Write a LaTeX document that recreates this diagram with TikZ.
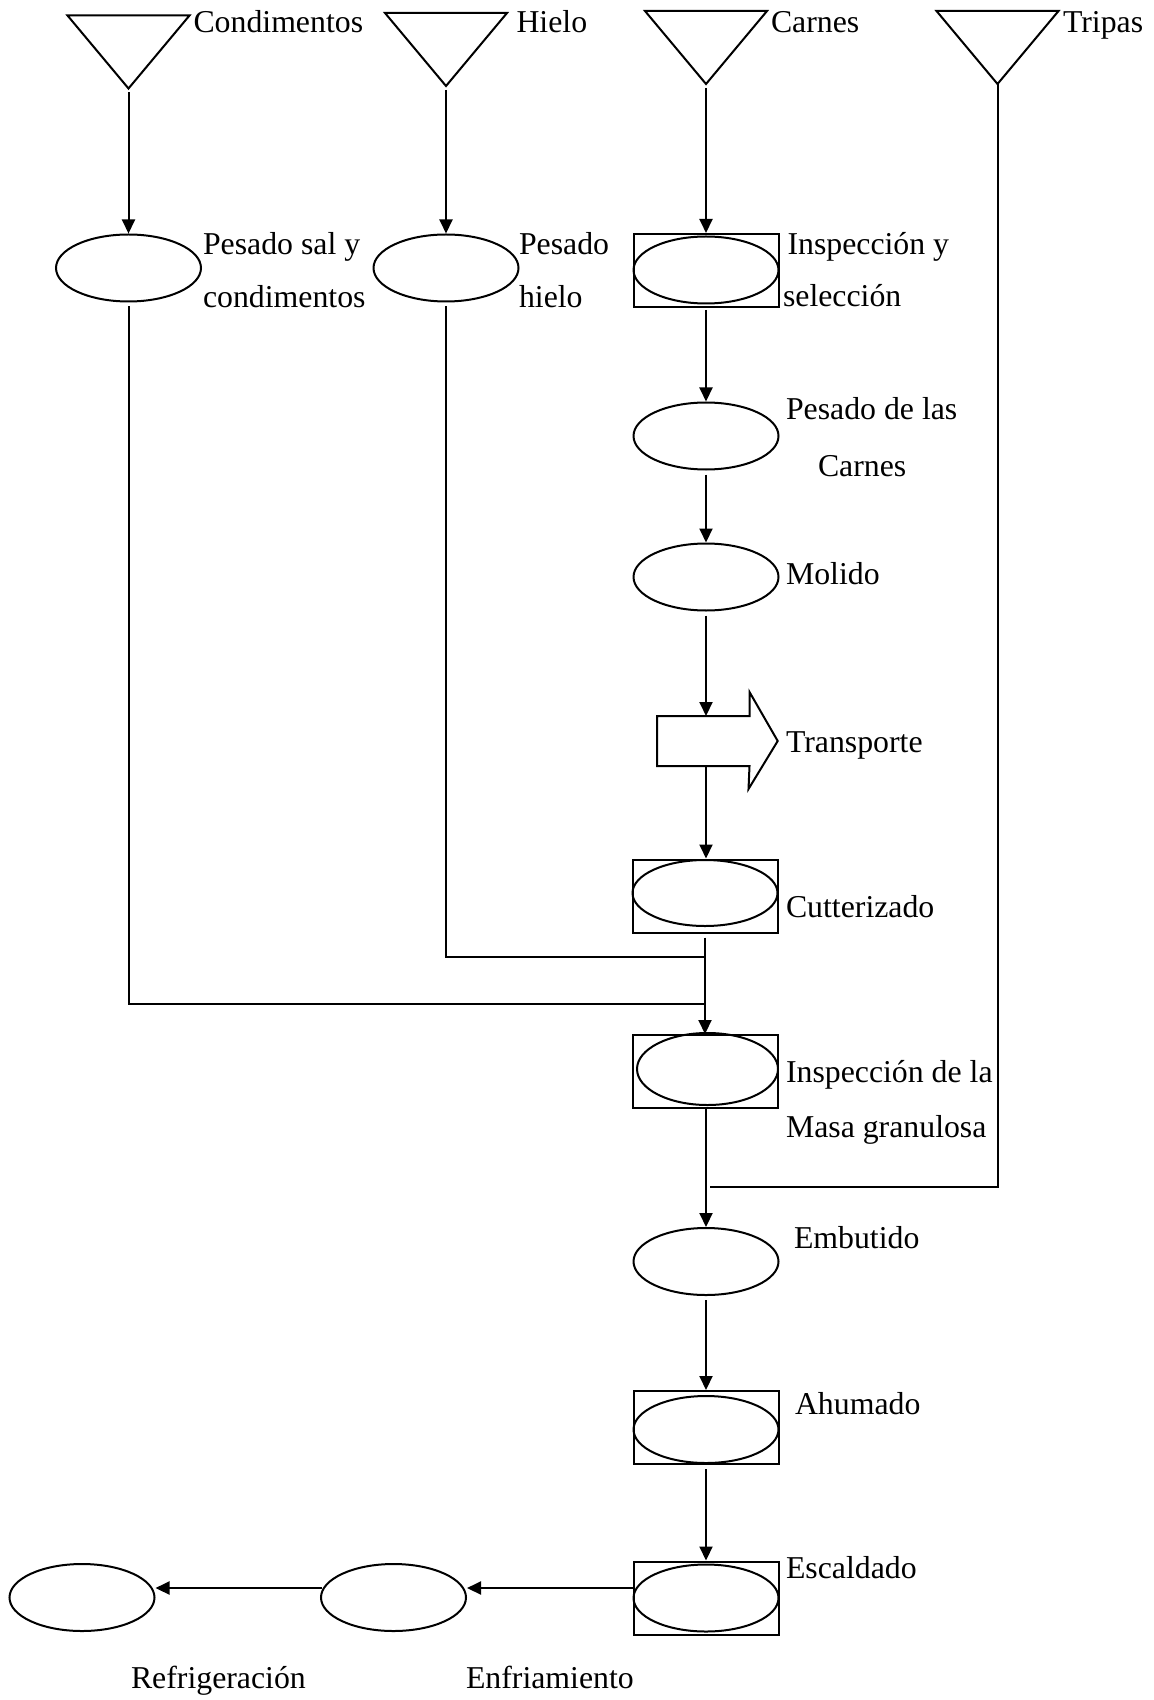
\documentclass[tikz,border=0pt]{standalone}
\usepackage{fontspec}
\setmainfont{Liberation Serif}
\usetikzlibrary{arrows.meta,shapes.geometric}
\begin{document}
\begin{tikzpicture}[x=0.5pt,y=-0.5pt,
  line width=1pt,
  proc/.style={draw, ellipse, inner sep=0pt, minimum width=72.5pt, minimum height=33.5pt},
  frame/.style={draw, rectangle, inner sep=0pt, minimum width=72.5pt, minimum height=36.5pt},
  tank/.style={inner sep=0pt, minimum width=60pt, minimum height=35.5pt},
  body/.style={inner sep=0pt, minimum width=45.25pt, minimum height=24pt},
  lbl/.style={anchor=base west, inner sep=0pt, font=\fontsize{15.9}{19}\selectfont},
  flow/.style={-{Triangle[length=7pt,width=6.5pt]}},
]
\useasboundingbox (0,0) rectangle (1153,1700);

% storage triangles (raw materials)
\node[tank] (t1) at (128.5,52)   {};
\node[tank] (t2) at (446,49.5) {};
\node[tank] (t3) at (706,47.5) {};
\node[tank] (t4) at (997.5,47.5) {};
\foreach \t in {t1,t2,t3,t4}
  \draw (\t.north west) -- (\t.north east) -- (\t.south) -- cycle;

\node[lbl] (lt1) at (192.5,33) {Condimentos};
\node[lbl] (lt2) at (515.5,33) {Hielo};
\node[lbl] (lt3) at (770,33)   {Carnes};
\node[lbl] (lt4) at (1062,33)  {Tripas};

% weighing of side materials
\node[proc] (ec) at (128.5,268) {};
\node[proc] (eh) at (446,268) {};
\node[lbl] (lec1) at (202,255) {Pesado sal y};
\node[lbl] (lec2) at (202,308) {condimentos};
\node[lbl] (leh1) at (518,255) {Pesado};
\node[lbl] (leh2) at (518,308) {hielo};

% main line
\node[frame] (f1) at (706,270.5) {};
\node[proc]  (e1) at (706,270) {};
\node[lbl] (le1a) at (786.5,255) {Inspección y};
\node[lbl] (le1b) at (782,307) {selección};

\node[proc] (e2) at (706,436) {};
\node[lbl] (le2a) at (785,420) {Pesado de las};
\node[lbl] (le2b) at (817,476) {Carnes};

\node[proc] (e3) at (706,577) {};
\node[lbl] (le3) at (785,584) {Molido};

% transport arrow
\node[body] (tr) at (703.25,741) {};
\draw (tr.north west) -- (tr.north east) -- ++(0,-24) -- (777.7,741)
      -- (748.5,789) -- (tr.south east) -- (tr.south west) -- cycle;
\node[lbl] (ltr) at (785,752) {Transporte};

\node[frame] (f4) at (705,896) {};
\node[proc, minimum height=33pt]  (e4) at (705,893) {};
\node[lbl] (le4) at (785,917) {Cutterizado};

\node[frame] (f5) at (705,1071.5) {};
\node[proc, minimum width=70.5pt, minimum height=36pt] (e5) at (707.5,1069) {};
\node[lbl] (le5a) at (785,1082) {Inspección de la};
\node[lbl] (le5b) at (785,1137) {Masa granulosa};

\node[proc] (e6) at (706,1261.5) {};
\node[lbl] (le6) at (793,1248) {Embutido};

\node[frame] (f7) at (706,1427.5) {};
\node[proc]  (e7) at (706,1429.5) {};
\node[lbl] (le7) at (794,1414) {Ahumado};

\node[frame] (f8) at (706,1598) {};
\node[proc]  (e8) at (706,1598) {};
\node[lbl] (le8) at (785,1578) {Escaldado};

\node[proc] (e9)  at (393.5,1597.5) {};
\node[proc] (e10) at (82,1597.5) {};
\node[lbl] (le9)  at (465,1688) {Enfriamiento};
\node[lbl] (le10) at (130,1688) {Refrigeración};

% junction points on the main line
\coordinate (hj) at (705,957);
\coordinate (cj) at (705,1004);
\coordinate (tj) at (710,1187);
\coordinate (ej) at (634,1588);
\coordinate (nj) at (322,1588);

% connectors
\draw[flow] ([yshift=-2pt]t1.south) -- (ec.north);
\draw[flow] ([yshift=-2pt]t2.south) -- (eh.north);
\draw[flow] ([yshift=-2pt]t3.south) -- (f1.north);
\draw[flow] ([yshift=-1pt]f1.south) -- (e2.north);
\draw[flow] ([yshift=-2pt]e2.south) -- (e3.north);
\draw[flow] ([yshift=-2pt]e3.south) -- (e3.south |- tr.north);
\draw[flow] (e3.south |- tr.south) -- (f4.north -| e3.south);
\draw[flow] ([yshift=-2pt]f4.south) -- (f5.north);
\draw ([yshift=-2pt]ec.south) |- (cj);
\draw ([yshift=-2pt]eh.south) |- (hj);
\draw (t4.south) |- (tj);
\draw[flow] (f5.south -| e6.north) -- (e6.north);
\draw[flow] ([yshift=-2pt]e6.south) -- (f7.north);
\draw[flow] ([yshift=-2pt]f7.south) -- (f8.north);
\draw[flow] (ej) -- (e9.east |- ej);
\draw[flow] (nj) -- (e10.east |- nj);
\end{tikzpicture}
\end{document}
